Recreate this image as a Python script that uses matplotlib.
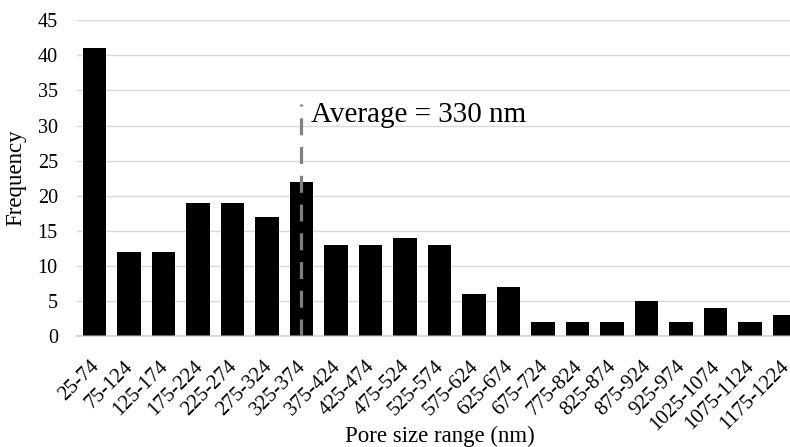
import matplotlib
matplotlib.use("Agg")
import matplotlib.pyplot as plt

plt.rcParams['font.family'] = ['Liberation Serif', 'DejaVu Serif']

# pore size histogram
bins = ['25-74', '75-124', '125-174', '175-224', '225-274', '275-324',
        '325-374', '375-424', '425-474', '475-524', '525-574', '575-624',
        '625-674', '675-724', '775-824', '825-874', '875-924', '925-974',
        '1025-1074', '1075-1124', '1175-1224']
counts = [41, 12, 12, 19, 19, 17, 22, 13, 13, 14, 13, 6, 7, 2, 2, 2, 5, 2, 4, 2, 3]

avg_size = 330      # nm
avg_line_top = 33   # frequency units

# category index of the bin holding the average
avg_x = next(i for i, b in enumerate(bins)
             if int(b.split('-')[0]) <= avg_size <= int(b.split('-')[1]))

fig = plt.figure(figsize=(7.9, 4.47), dpi=100)
ax = fig.add_axes([0.0978, 0.2483, 0.917, 0.7063])

x = range(len(bins))
ax.bar(x, counts, width=0.67, color='black', zorder=1)

ax.set_xlim(-0.5, len(bins) - 0.5)
ax.set_ylim(0, 45)
ax.set_yticks(range(0, 46, 5))
ax.set_xticks(list(x))
ax.set_xticklabels([])

# slanted category labels, ending just left of each bar centre
for i, b in enumerate(bins):
    ax.annotate(b, xy=(i, 0), xycoords=('data', 'axes fraction'),
                xytext=(-3.6, -15), textcoords='offset points',
                rotation=45, rotation_mode='anchor', ha='right', va='top',
                fontsize=15, annotation_clip=False)

ax.set_axisbelow(True)
ax.yaxis.grid(True, color='#d9d9d9', linewidth=1.0)
ax.tick_params(axis='both', length=0)
ax.tick_params(axis='y', labelsize=14.5, pad=14)

for s in ['left', 'right', 'top']:
    ax.spines[s].set_visible(False)
ax.spines['bottom'].set_color('#bfbfbf')
ax.spines['bottom'].set_alpha(0.55)
ax.spines['bottom'].set_linewidth(1.5)

ax.set_ylabel('Frequency', fontsize=16.5)
ax.yaxis.set_label_coords(-0.071, 0.5)
ax.set_xlabel('Pore size range (nm)', fontsize=16.5)
ax.xaxis.set_label_coords(0.5, -0.283)

# average marker
ax.plot([avg_x, avg_x], [0, avg_line_top], color='#808080', linewidth=2.3,
        linestyle=(0, (5.3, 3.7)), zorder=5)
ax.annotate('Average = %d nm' % avg_size, xy=(avg_x, avg_line_top),
            xytext=(6.5, -12.5), textcoords='offset points',
            ha='left', va='baseline', fontsize=21)

fig.savefig('out.png', dpi=100)
